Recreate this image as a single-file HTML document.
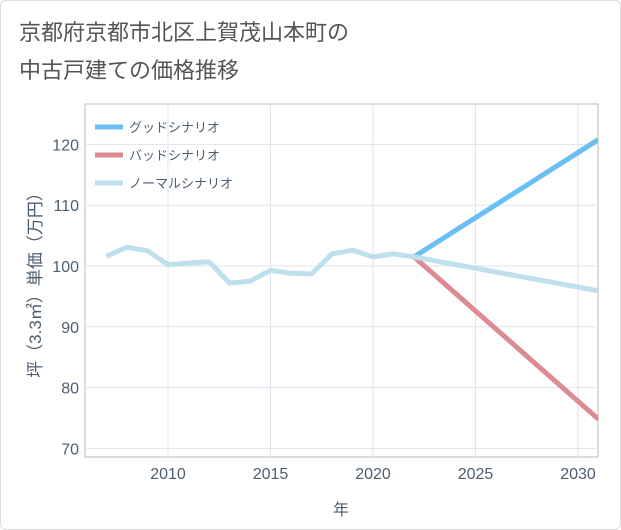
<!DOCTYPE html>
<html><head><meta charset="utf-8"><style>
body{margin:0;background:#fff;font-family:"Liberation Sans","Noto Sans CJK JP",sans-serif}
</style></head><body>
<div style="position:relative;width:619px;height:528px;border:1px solid #ddd;border-radius:6px;overflow:hidden">
<svg id="c" width="621" height="530" xmlns="http://www.w3.org/2000/svg">
<text x="18" y="39" font-size="22" fill="#555">京都府京都市北区上賀茂山本町の</text>
<text x="18" y="77" font-size="22" fill="#555">中古戸建ての価格推移</text>
</svg></div>
<script>
const years=[2007,2008,2009,2010,2011,2012,2013,2014,2015,2016,2017,2018,2019,2020,2021,2022];
const normalHist=[101.6,103.1,102.5,100.2,100.5,100.7,97.2,97.5,99.3,98.8,98.7,102,102.6,101.5,102,101.5];
const projYears=[2022,2031];
const goodProj=[101.5,120.8];
const badProj=[101.5,74.8];
const normalProj=[101.5,95.9];
const xTicks=[2010,2015,2020,2025,2030];
const yTicks=[70,80,90,100,110,120];
const legendLabels=["グッドシナリオ","バッドシナリオ","ノーマルシナリオ"];
const colors=["#6bbff2","#dd8a93","#c0dfec"];
const axisColor="#4d5e70";
const L=84,R=597,T=103,B=456;
const X=v=>167+(v-2010)*20.5;
const Y=v=>265-(v-100)*6.08;
const s=document.getElementById('c'),NS="http://www.w3.org/2000/svg";
function el(t,a,txt){const e=document.createElementNS(NS,t);for(const k in a)e.setAttribute(k,a[k]);if(txt!=null)e.textContent=txt;s.appendChild(e);return e;}
let r=el('rect',{x:L,y:T,width:R-L,height:B-T,fill:'none',stroke:'#bbb'});

xTicks.forEach(v=>{let g=el('line',{x1:X(v),x2:X(v),y1:T,y2:B,stroke:'#dde6ee'});
let t=el('text',{x:X(v),y:478,'text-anchor':'middle','font-size':16,fill:axisColor},v);});
yTicks.forEach(v=>{let g=el('line',{x1:L,x2:R,y1:Y(v),y2:Y(v),stroke:'#dde6ee'});
let t=el('text',{x:78,y:Y(v)+6,'text-anchor':'end','font-size':16,fill:axisColor},v);});
let xt=el('text',{x:340,y:514,'text-anchor':'middle','font-size':16,fill:axisColor},'年');
let yt=el('text',{x:0,y:0,'text-anchor':'middle','font-size':17,fill:axisColor,transform:'translate(40,280) rotate(-90)'},'坪（3.3㎡）単価（万円）');
function line(xs,vs,c,n){const p=xs.map((x,i)=>X(x)+','+Y(vs[i])).join(' ');let e=el('polyline',{points:p,fill:'none',stroke:c,'stroke-width':5,'stroke-linejoin':'round'});}
const cp=document.createElementNS(NS,'clipPath');cp.id='cl';const cr=document.createElementNS(NS,'rect');cr.setAttribute('x',L);cr.setAttribute('y',T);cr.setAttribute('width',R-L);cr.setAttribute('height',B-T);cp.appendChild(cr);s.appendChild(cp);
line(projYears,goodProj,colors[0],'good-scenario-line');
line(projYears,badProj,colors[1],'bad-scenario-line');
line(projYears,normalProj,colors[2],'normal-scenario-line');
line(years,normalHist,colors[2],'historical-line');
s.querySelectorAll('polyline').forEach(p=>p.setAttribute('clip-path','url(#cl)'));
legendLabels.forEach((l,i)=>{let y=126+i*28;let m=el('line',{x1:94,x2:122,y1:y,y2:y,stroke:colors[i],'stroke-width':5});
let t=el('text',{x:128,y:y+5,'font-size':13,fill:axisColor},l);});
</script></body></html>
